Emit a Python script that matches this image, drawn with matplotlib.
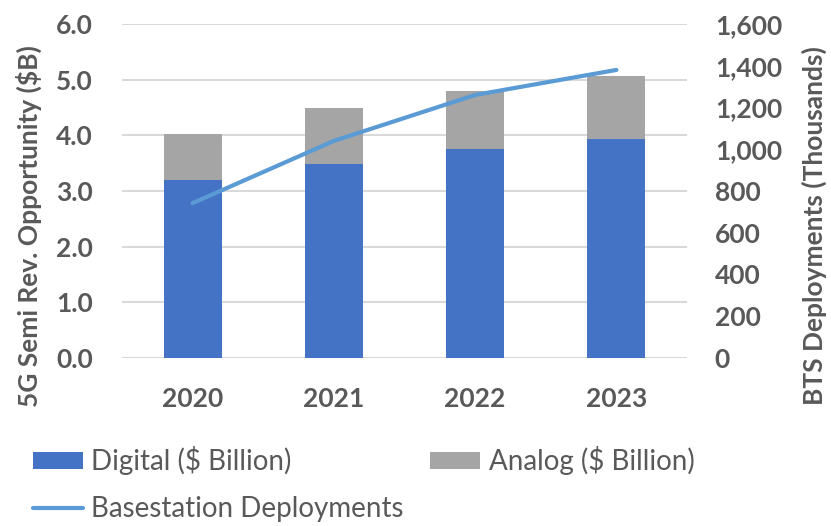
import matplotlib.pyplot as plt
import numpy as np

years = ["2020", "2021", "2022", "2023"]
digital = [3.20, 3.48, 3.75, 3.93]   # $ Billion
analog = [0.82, 1.01, 1.05, 1.13]    # $ Billion
bts = [742, 1040, 1260, 1380]        # thousands

blue = "#4472C4"
grey = "#A5A5A5"
line_blue = "#5B9BD5"
txt = "#595959"

plt.rcParams["font.family"] = ["Lato", "DejaVu Sans"]

fig = plt.figure(figsize=(8.31, 5.26), dpi=100)
ax = fig.add_axes([122/831, 1-358/526, (687-122)/831, (358-24)/526])
x = np.arange(len(years))

b1 = ax.bar(x, digital, width=0.41, color=blue, zorder=3)
b2 = ax.bar(x, analog, width=0.41, bottom=digital, color=grey, zorder=3)
ax.set_xlim(-0.5, 3.5)
ax.set_ylim(0, 6)
ax.set_yticks(np.arange(0, 6.1, 1.0))
ax.set_yticklabels([f"{v:.1f}" for v in np.arange(0, 6.1, 1.0)])
ax.set_xticks(x)
ax.set_xticklabels(years)
ax.grid(axis="y", color="#d9d9d9", linewidth=1.5, zorder=0)
for s in ax.spines.values():
    s.set_visible(False)
ax.tick_params(length=0, labelsize=19, labelcolor=txt)
ax.tick_params(axis="y", pad=21)
ax.tick_params(axis="x", pad=21)
for t in ax.get_xticklabels() + ax.get_yticklabels():
    t.set_fontweight("bold")
ax.set_ylabel("5G Semi Rev. Opportunity ($B)", fontsize=19, fontweight="bold", color=txt)
ax.yaxis.set_label_coords((42-122)/565, (358-226)/334)

ax2 = ax.twinx()
ln, = ax2.plot(x, bts, color=line_blue, linewidth=3, solid_capstyle="round", zorder=4)
ax2.set_ylim(0, 1600)
ax2.set_yticks(range(0, 1601, 200))
ax2.set_yticklabels([f"{v:,}" for v in range(0, 1601, 200)])
for s in ax2.spines.values():
    s.set_visible(False)
ax2.tick_params(length=0, labelsize=19, labelcolor=txt, pad=20)
for t in ax2.get_yticklabels():
    t.set_fontweight("bold")
ax2.set_ylabel("BTS Deployments (Thousands)", fontsize=19, fontweight="bold", color=txt)
ax2.yaxis.set_label_coords((802-122)/565, (358-226)/334)

leg = fig.legend([b1, ln, b2], ["Digital ($ Billion)", "Basestation Deployments", "Analog ($ Billion)"],
                 ncol=2, loc="upper left", bbox_to_anchor=(33/831, 1-446/526), frameon=False,
                 fontsize=20, labelcolor=txt, handlelength=1.8, handleheight=0.58,
                 handletextpad=0.3, columnspacing=0.95, labelspacing=0.75, borderpad=0,
                 borderaxespad=0)

fig.savefig("out.png", dpi=100)
